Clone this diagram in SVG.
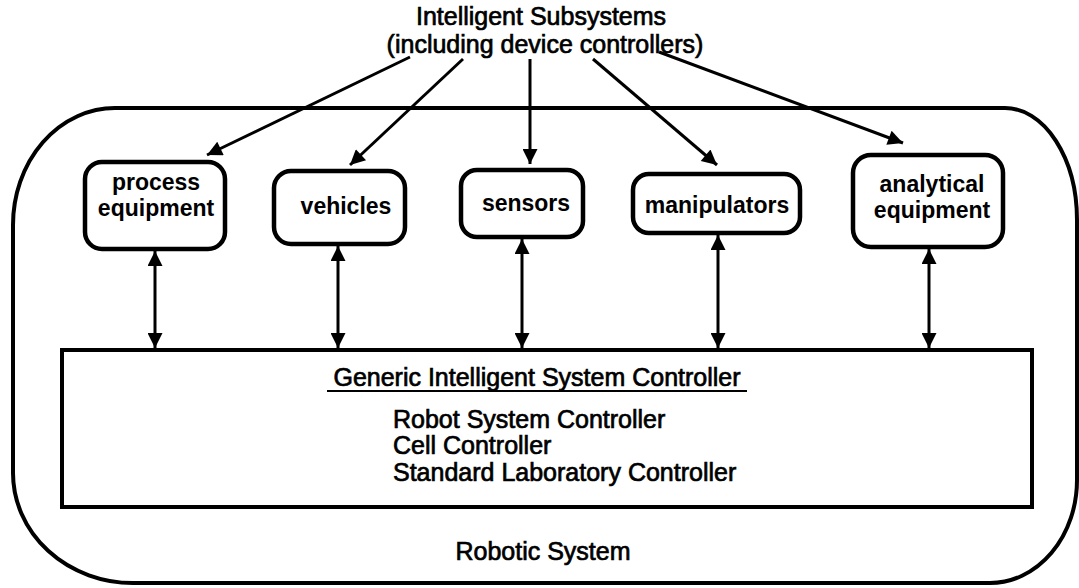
<svg xmlns="http://www.w3.org/2000/svg" width="1079" height="588" viewBox="0 0 1079 588">
  <style>
    .txt { font-family: "Liberation Sans", Arial, sans-serif; fill: #000; font-size: 25px; text-anchor: middle; stroke: #000; stroke-width: 0.7; }
    .lbl { font-family: "Liberation Sans", Arial, sans-serif; fill: #000; font-size: 23px; font-weight: bold; text-anchor: middle; }
    .left { text-anchor: start; }
    .node { fill: #fff; stroke: #000; stroke-width: 4.5; }
    .frame { fill: none; stroke: #000; stroke-width: 4; }
    .wire { fill: none; stroke: #000; stroke-width: 3; }
  </style>
  <defs>
    <marker id="head" viewBox="0 0 10 10" refX="10" refY="5" markerWidth="8" markerHeight="5" markerUnits="strokeWidth" orient="auto-start-reverse">
      <path d="M0,0 L10,5 L0,10 Z" fill="#000"/>
    </marker>
    <marker id="bihead" viewBox="0 0 10 10" refX="10" refY="5" markerWidth="9.5" markerHeight="5" markerUnits="strokeWidth" orient="auto-start-reverse">
      <path d="M0,0 L10,5 L0,10 Z" fill="#000"/>
    </marker>
  </defs>

  <rect width="1079" height="588" fill="#fff"/>

  <!-- robotic system boundary -->
  <g id="robotic-system">
    <path class="frame" d="M115,108 L1005,108 A72,112 0 0 1 1077,220 L1077,480 A87,103 0 0 1 990,583 L133,583 A120,110 0 0 1 13,473 L13,225 A102,117 0 0 1 115,108 Z"/>
    <text class="txt" x="543" y="560">Robotic System</text>
  </g>

  <!-- title -->
  <g id="intelligent-subsystems">
    <text class="txt" x="541" y="25">Intelligent Subsystems</text>
    <text class="txt" x="545" y="53">(including device controllers)</text>
  </g>

  <!-- device nodes -->
  <g id="process-equipment">
    <rect class="node" x="85" y="162" width="140" height="87" rx="17"/>
    <text class="lbl" x="156" y="190">process</text>
    <text class="lbl" x="156" y="216">equipment</text>
  </g>
  <g id="vehicles">
    <rect class="node" x="274" y="171" width="131" height="73" rx="17"/>
    <text class="lbl" x="346" y="214">vehicles</text>
  </g>
  <g id="sensors">
    <rect class="node" x="461" y="170" width="122" height="67" rx="16"/>
    <text class="lbl" x="526" y="211">sensors</text>
  </g>
  <g id="manipulators">
    <rect class="node" x="633" y="174" width="167" height="59" rx="16"/>
    <text class="lbl" x="717" y="213">manipulators</text>
  </g>
  <g id="analytical-equipment">
    <rect class="node" x="853" y="155" width="150" height="92" rx="18"/>
    <text class="lbl" x="932" y="192">analytical</text>
    <text class="lbl" x="932" y="218">equipment</text>
  </g>

  <!-- system controller -->
  <g id="system-controller">
    <rect class="frame" x="62" y="350" width="970" height="157"/>
    <text class="txt" x="537" y="386">Generic Intelligent System Controller</text>
    <line x1="327" y1="391" x2="747" y2="391" stroke="#000" stroke-width="2"/>
    <text class="txt left" x="393" y="428">Robot System Controller</text>
    <text class="txt left" x="393" y="454">Cell Controller</text>
    <text class="txt left" x="393" y="481">Standard Laboratory Controller</text>
  </g>

  <!-- connectors -->
  <g id="connectors">
    <line class="wire" x1="410" y1="57" x2="207" y2="155" marker-end="url(#head)"/>
    <line class="wire" x1="463" y1="59" x2="350" y2="165" marker-end="url(#head)"/>
    <line class="wire" x1="530" y1="59" x2="530" y2="164" stroke-width="2.2" marker-end="url(#head)"/>
    <line class="wire" x1="593" y1="59" x2="717" y2="165" marker-end="url(#head)"/>
    <line class="wire" x1="659" y1="52" x2="903" y2="143" marker-end="url(#head)"/>

    <line class="wire" x1="155" y1="251" x2="155" y2="348" marker-start="url(#bihead)" marker-end="url(#bihead)"/>
    <line class="wire" x1="338" y1="246" x2="338" y2="348" marker-start="url(#bihead)" marker-end="url(#bihead)"/>
    <line class="wire" x1="522" y1="239" x2="522" y2="348" marker-start="url(#bihead)" marker-end="url(#bihead)"/>
    <line class="wire" x1="718" y1="235" x2="718" y2="348" marker-start="url(#bihead)" marker-end="url(#bihead)"/>
    <line class="wire" x1="929" y1="249" x2="929" y2="348" marker-start="url(#bihead)" marker-end="url(#bihead)"/>
  </g>
</svg>
